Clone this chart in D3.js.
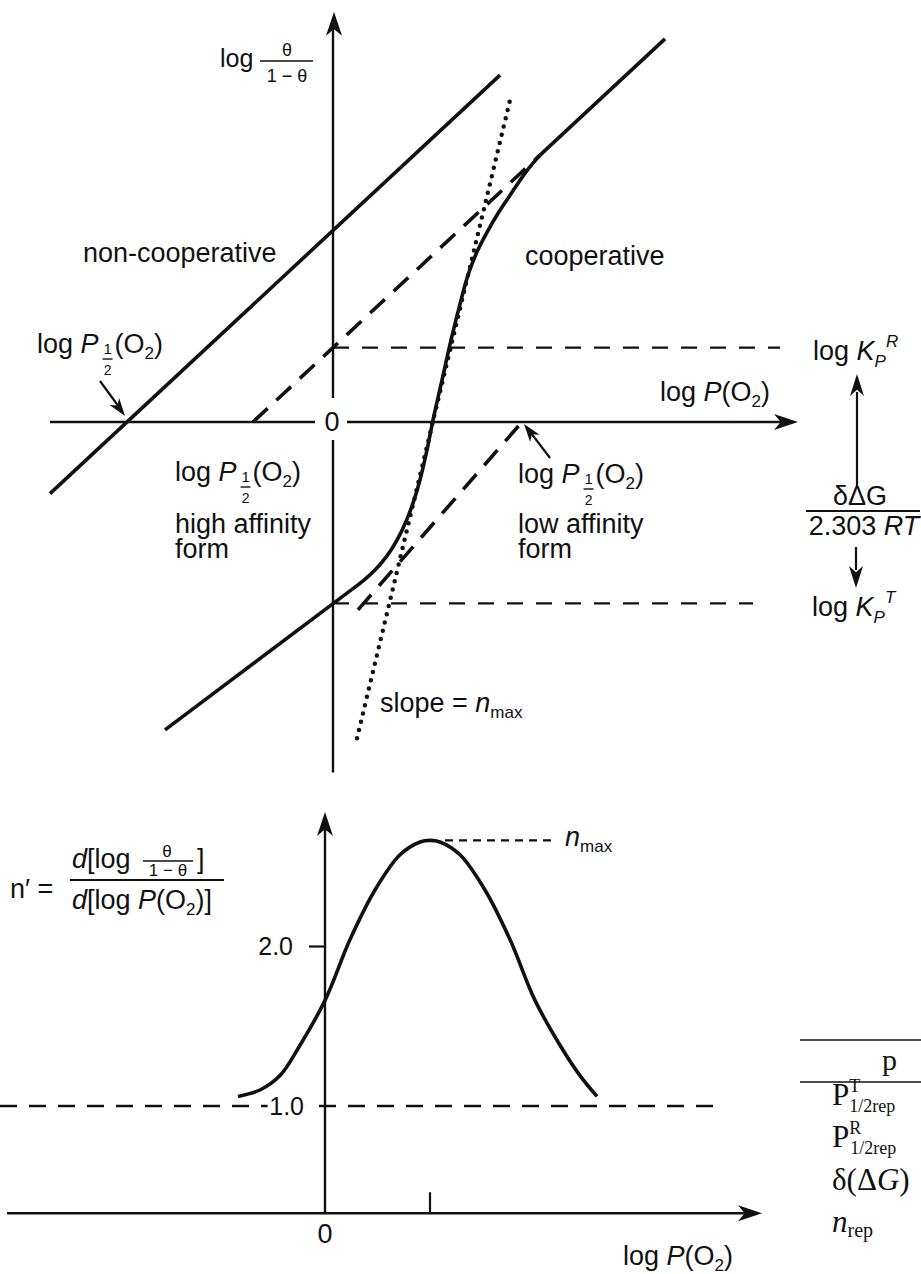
<!DOCTYPE html>
<html><head><meta charset="utf-8">
<script src="https://cdn.jsdelivr.net/npm/d3@7"></script>
<style>
html,body{margin:0;padding:0;background:#fff;}
svg text{fill:#111;}
</style></head>
<body><svg id="c" width="921" height="1274"></svg>
<script>
// ---------- DATA (log units) ----------
// top panel: x = log P(O2), y = log(theta/(1-theta))
const nonCoopLine = [[-2.83,-0.77],[1.67,3.73]];
const upperDashed = [[-0.80,0.00],[2.07,2.87]];
const upperSolid  = [[2.07,2.87],[3.32,4.12]];
const lowerSolid  = [[-1.68,-3.31],[0.19,-1.80]];
const lowerDashed = [[0.25,-2.02],[1.89,0.00]];
const sigmoidX = [0.19,0.31,0.43,0.54,0.64,0.73,0.81,0.88,0.94,1.00,1.09,1.18,1.28,1.35,1.44,1.54,1.66,1.79,1.93,2.07];
const sigmoidY = [-1.80,-1.70,-1.58,-1.44,-1.27,-1.07,-0.84,-0.58,-0.30,0.02,0.45,0.88,1.31,1.58,1.83,2.04,2.26,2.47,2.69,2.87];
const tangentLine = [[0.24,-3.40],[1.77,3.46]];
const logKR = 0.80, logKT = -1.95;
const KRrange = [0, 4.47], KTrange = [0, 4.20];
const xAxisTop = [-2.83, 4.65], yAxisTop = [-3.77, 4.41];
// bottom panel: x = log P(O2), y = n'
const nPrimeX = [-0.87,-0.65,-0.45,-0.25,0.00,0.25,0.50,0.75,0.95,1.05,1.15,1.35,1.60,1.85,2.10,2.35,2.55,2.72];
const nPrimeY = [1.06,1.10,1.19,1.38,1.66,2.04,2.35,2.57,2.65,2.66,2.65,2.57,2.35,2.04,1.66,1.38,1.19,1.06];
const nTicks = [1.0, 2.0];
const nMax = 2.66, nMaxX = 1.05;
const xAxisBot = [-3.18, 4.37], nAxisBottom = 0.33, nAxisTop = 2.8;

// ---------- SCALES ----------
const xT = d3.scaleLinear().domain([0,1]).range([333,433]);
const yT = d3.scaleLinear().domain([0,1]).range([422,329]);
const xB = d3.scaleLinear().domain([0,1]).range([325,425]);
const yB = d3.scaleLinear().domain([1,2]).range([1106,946]);

const SANS = "'Liberation Sans', Arial, Helvetica, sans-serif";
const SERIF = "'Liberation Serif', 'Times New Roman', serif";
const FS = 27, SUB = 17;
const svg = d3.select("#c");
const lineT = d3.line().x(d=>xT(d[0])).y(d=>yT(d[1]));

function arrowHead(x,y,dir,len=24,w=8){
  const c=Math.cos(dir), s=Math.sin(dir);
  const p=(a,b)=>[x + a*c - b*s, y + a*s + b*c];
  const pts=[p(0,0),p(-len,-w),p(-len*0.72,0),p(-len,w)];
  svg.append("path").attr("d","M"+pts.map(q=>q.join(",")).join("L")+"Z").attr("fill","#111");
}
function seg(x1,y1,x2,y2,w=2.4,dash=null){
  const l=svg.append("line").attr("x1",x1).attr("y1",y1).attr("x2",x2).attr("y2",y2)
    .attr("stroke","#111").attr("stroke-width",w);
  if(dash) l.attr("stroke-dasharray",dash);
  return l;
}
function txt(x,y,s,size=FS,anchor="start"){
  return svg.append("text").attr("x",x).attr("y",y).attr("font-size",size)
    .style("font-family",SANS).attr("text-anchor",anchor).text(s);
}
function tx(x,y,size=FS,anchor="start"){
  return svg.append("text").attr("x",x).attr("y",y).attr("font-size",size)
    .style("font-family",SANS).attr("text-anchor",anchor);
}

// ---------- TOP PANEL ----------
seg(xT(xAxisTop[0]),yT(0),315,yT(0),2.4);
seg(347,yT(0),xT(xAxisTop[1])-10,yT(0),2.4);
arrowHead(xT(xAxisTop[1]),yT(0),0);
seg(xT(0),yT(yAxisTop[0]),xT(0),440,2.4);
seg(xT(0),398,xT(0),yT(yAxisTop[1])+10,2.4);
arrowHead(xT(0)+1,yT(yAxisTop[1]),-Math.PI/2);
txt(xT(0)-1,yT(0)+9,"0",FS,"middle");

seg(xT(KRrange[0]),yT(logKR),xT(KRrange[1]),yT(logKR),2.4,"16 13");
seg(xT(KTrange[0]),yT(logKT),xT(KTrange[1]),yT(logKT),2.4,"16 13");

const thick = 3.6;
function pathT(data,dash){
  const p=svg.append("path").attr("d",lineT(data)).attr("fill","none").attr("stroke","#111").attr("stroke-width",thick);
  if(dash) p.attr("stroke-dasharray",dash);
}
pathT(nonCoopLine);
pathT(upperDashed,"20 12");
pathT(upperSolid);
pathT(lowerSolid);
pathT(lowerDashed,"20 12");
const sig = sigmoidX.map((x,i)=>[x,sigmoidY[i]]);
svg.append("path").attr("d",d3.line().x(d=>xT(d[0])).y(d=>yT(d[1])).curve(d3.curveCatmullRom.alpha(0.5))(sig))
  .attr("fill","none").attr("stroke","#111").attr("stroke-width",thick).attr("stroke-linejoin","round");
svg.append("path").attr("d",lineT(tangentLine)).attr("fill","none").attr("stroke","#111")
  .attr("stroke-width",4.5).attr("stroke-linecap","round").attr("stroke-dasharray","0 8.5");

// log theta/(1-theta)
txt(220,67,"log",25);
txt(287,56,"θ",18,"middle");
seg(260,61,313,61,1.6);
txt(287,82,"1 − θ",18,"middle");

txt(83,262,"non-cooperative");
txt(525,265,"cooperative");

function logP12(x,y){
  const t=tx(x,y);
  t.append("tspan").text("log ");
  t.append("tspan").attr("font-style","italic").text("P");
  const w=t.node().getComputedTextLength();
  const fx=x+w+3;
  txt(fx+6,y+1,"1",15,"middle");
  seg(fx+1,y+6,fx+11,y+6,1.4);
  txt(fx+6,y+22,"2",14,"middle");
  const t2=tx(fx+13,y);
  t2.append("tspan").text("(O");
  t2.append("tspan").attr("font-size",SUB).attr("dy",6).text("2");
  t2.append("tspan").attr("dy",-6).text(")");
}
logP12(37,353);
logP12(175,481);
logP12(518,483);
txt(175,533,"high affinity");
txt(175,558,"form");
txt(518,533,"low affinity");
txt(518,558,"form");

seg(100,381,119,407,2.2); arrowHead(125,416,Math.atan2(34,25),18,6);
seg(550,458,531,433,2.2); arrowHead(524,424,Math.atan2(-34,-26),18,6);

{const t=tx(660,401);
 t.append("tspan").text("log ");
 t.append("tspan").attr("font-style","italic").text("P");
 t.append("tspan").text("(O");
 t.append("tspan").attr("font-size",SUB).attr("dy",6).text("2");
 t.append("tspan").attr("dy",-6).text(")");}

function logK(x,y,sup){
  const t=tx(x,y);
  t.append("tspan").text("log ");
  t.append("tspan").attr("font-style","italic").text("K");
  t.append("tspan").attr("font-style","italic").attr("font-size",SUB).attr("dy",7).text("P");
  t.append("tspan").attr("font-style","italic").attr("font-size",SUB).attr("dy",-20).text(sup);
}
logK(813,360,"R");
logK(812,616,"T");
seg(857,487,857,392,2.2); arrowHead(857,374,-Math.PI/2,22,7);
seg(856,547,856,570,2.2); arrowHead(856,588,Math.PI/2,22,7);
txt(860,505,"δΔG",FS,"middle");
seg(806,511,920,511,1.8);
{const t=tx(864,535,FS,"middle");
 t.append("tspan").text("2.303 ");
 t.append("tspan").attr("font-style","italic").text("RT");}

{const t=tx(380,712);
 t.append("tspan").text("slope = ");
 t.append("tspan").attr("font-style","italic").text("n");
 t.append("tspan").attr("font-size",SUB).attr("dy",6).text("max");}

// ---------- BOTTOM PANEL ----------
const yAxB = yB(nAxisBottom);
seg(xB(xAxisBot[0]),yAxB,xB(xAxisBot[1])-10,yAxB,2.4);
arrowHead(xB(xAxisBot[1]),yAxB,0);
seg(xB(0),yAxB,xB(0),yB(nAxisTop)+10,2.4);
arrowHead(xB(0),yB(nAxisTop)-6,-Math.PI/2);

seg(0,yB(1),720,yB(1),2.4,"17 12");
const ax = d3.axisLeft(yB).tickValues(nTicks).tickFormat(d3.format(".1f")).tickSize(16).tickPadding(16);
const gA = svg.append("g").attr("transform",`translate(${xB(0)},0)`).call(ax);
gA.select(".domain").remove();
gA.selectAll(".tick line").attr("stroke","#111").attr("stroke-width",2.2);
gA.selectAll(".tick text").attr("font-size",25).style("font-family",SANS).attr("fill","#111")
  .attr("stroke","#fff").attr("stroke-width",8).attr("paint-order","stroke");
gA.selectAll(".tick").filter(d=>d===1).select("line").remove();
gA.selectAll(".tick").filter(d=>d===1).select("text").attr("x",-21);

seg(xB(nMaxX),yAxB-21,xB(nMaxX),yAxB,2.2);
txt(xB(0),1243,"0",FS,"middle");
{const t=tx(623,1265);
 t.append("tspan").text("log ");
 t.append("tspan").attr("font-style","italic").text("P");
 t.append("tspan").text("(O");
 t.append("tspan").attr("font-size",SUB).attr("dy",6).text("2");
 t.append("tspan").attr("dy",-6).text(")");}

const npts = nPrimeX.map((x,i)=>[x,nPrimeY[i]]);
svg.append("path").attr("d",d3.line().x(d=>xB(d[0])).y(d=>yB(d[1])).curve(d3.curveCatmullRom)(npts))
  .attr("fill","none").attr("stroke","#111").attr("stroke-width",thick);
seg(xB(nMaxX)+15,yB(nMax),555,yB(nMax),2.2,"8 6");
{const t=tx(565,yB(nMax)+6);
 t.append("tspan").attr("font-style","italic").text("n");
 t.append("tspan").attr("font-size",SUB).attr("dy",6).text("max");}

// n' formula
txt(10,898,"n′ =",FS);
{const t=tx(72,868);
 t.append("tspan").attr("font-style","italic").text("d");
 t.append("tspan").text("[log");}
txt(167,857,"θ",17,"middle");
seg(143,861,193,861,1.6);
txt(168,876,"1 − θ",17,"middle");
txt(197,868,"]",FS);
seg(70,880,224,880,1.8);
{const t=tx(72,909);
 t.append("tspan").attr("font-style","italic").text("d");
 t.append("tspan").text("[log ");
 t.append("tspan").attr("font-style","italic").text("P");
 t.append("tspan").text("(O");
 t.append("tspan").attr("font-size",SUB).attr("dy",6).text("2");
 t.append("tspan").attr("dy",-6).text(")]");}

// table fragment (serif)
function stx(x,y,size=31){
  return svg.append("text").attr("x",x).attr("y",y).attr("font-size",size).style("font-family",SERIF);
}
seg(800,1040,921,1040,1.4);
seg(800,1082,921,1082,1.4);
stx(882,1070,30).text("p");
function tRow(y,sup){
  const t=stx(832,y);
  t.append("tspan").text("P");
  t.append("tspan").attr("font-size",18).attr("dy",-13).text(sup);
  t.append("tspan").attr("font-size",18).attr("dy",20).attr("dx",-11).text("1/2rep");
}
tRow(1105,"T");
tRow(1147,"R");
{const t=stx(832,1190);
 t.append("tspan").text("δ(Δ");
 t.append("tspan").attr("font-style","italic").text("G");
 t.append("tspan").text(")");}
{const t=stx(832,1232);
 t.append("tspan").attr("font-style","italic").text("n");
 t.append("tspan").attr("font-size",20).attr("dy",5).text("rep");}
</script></body></html>
